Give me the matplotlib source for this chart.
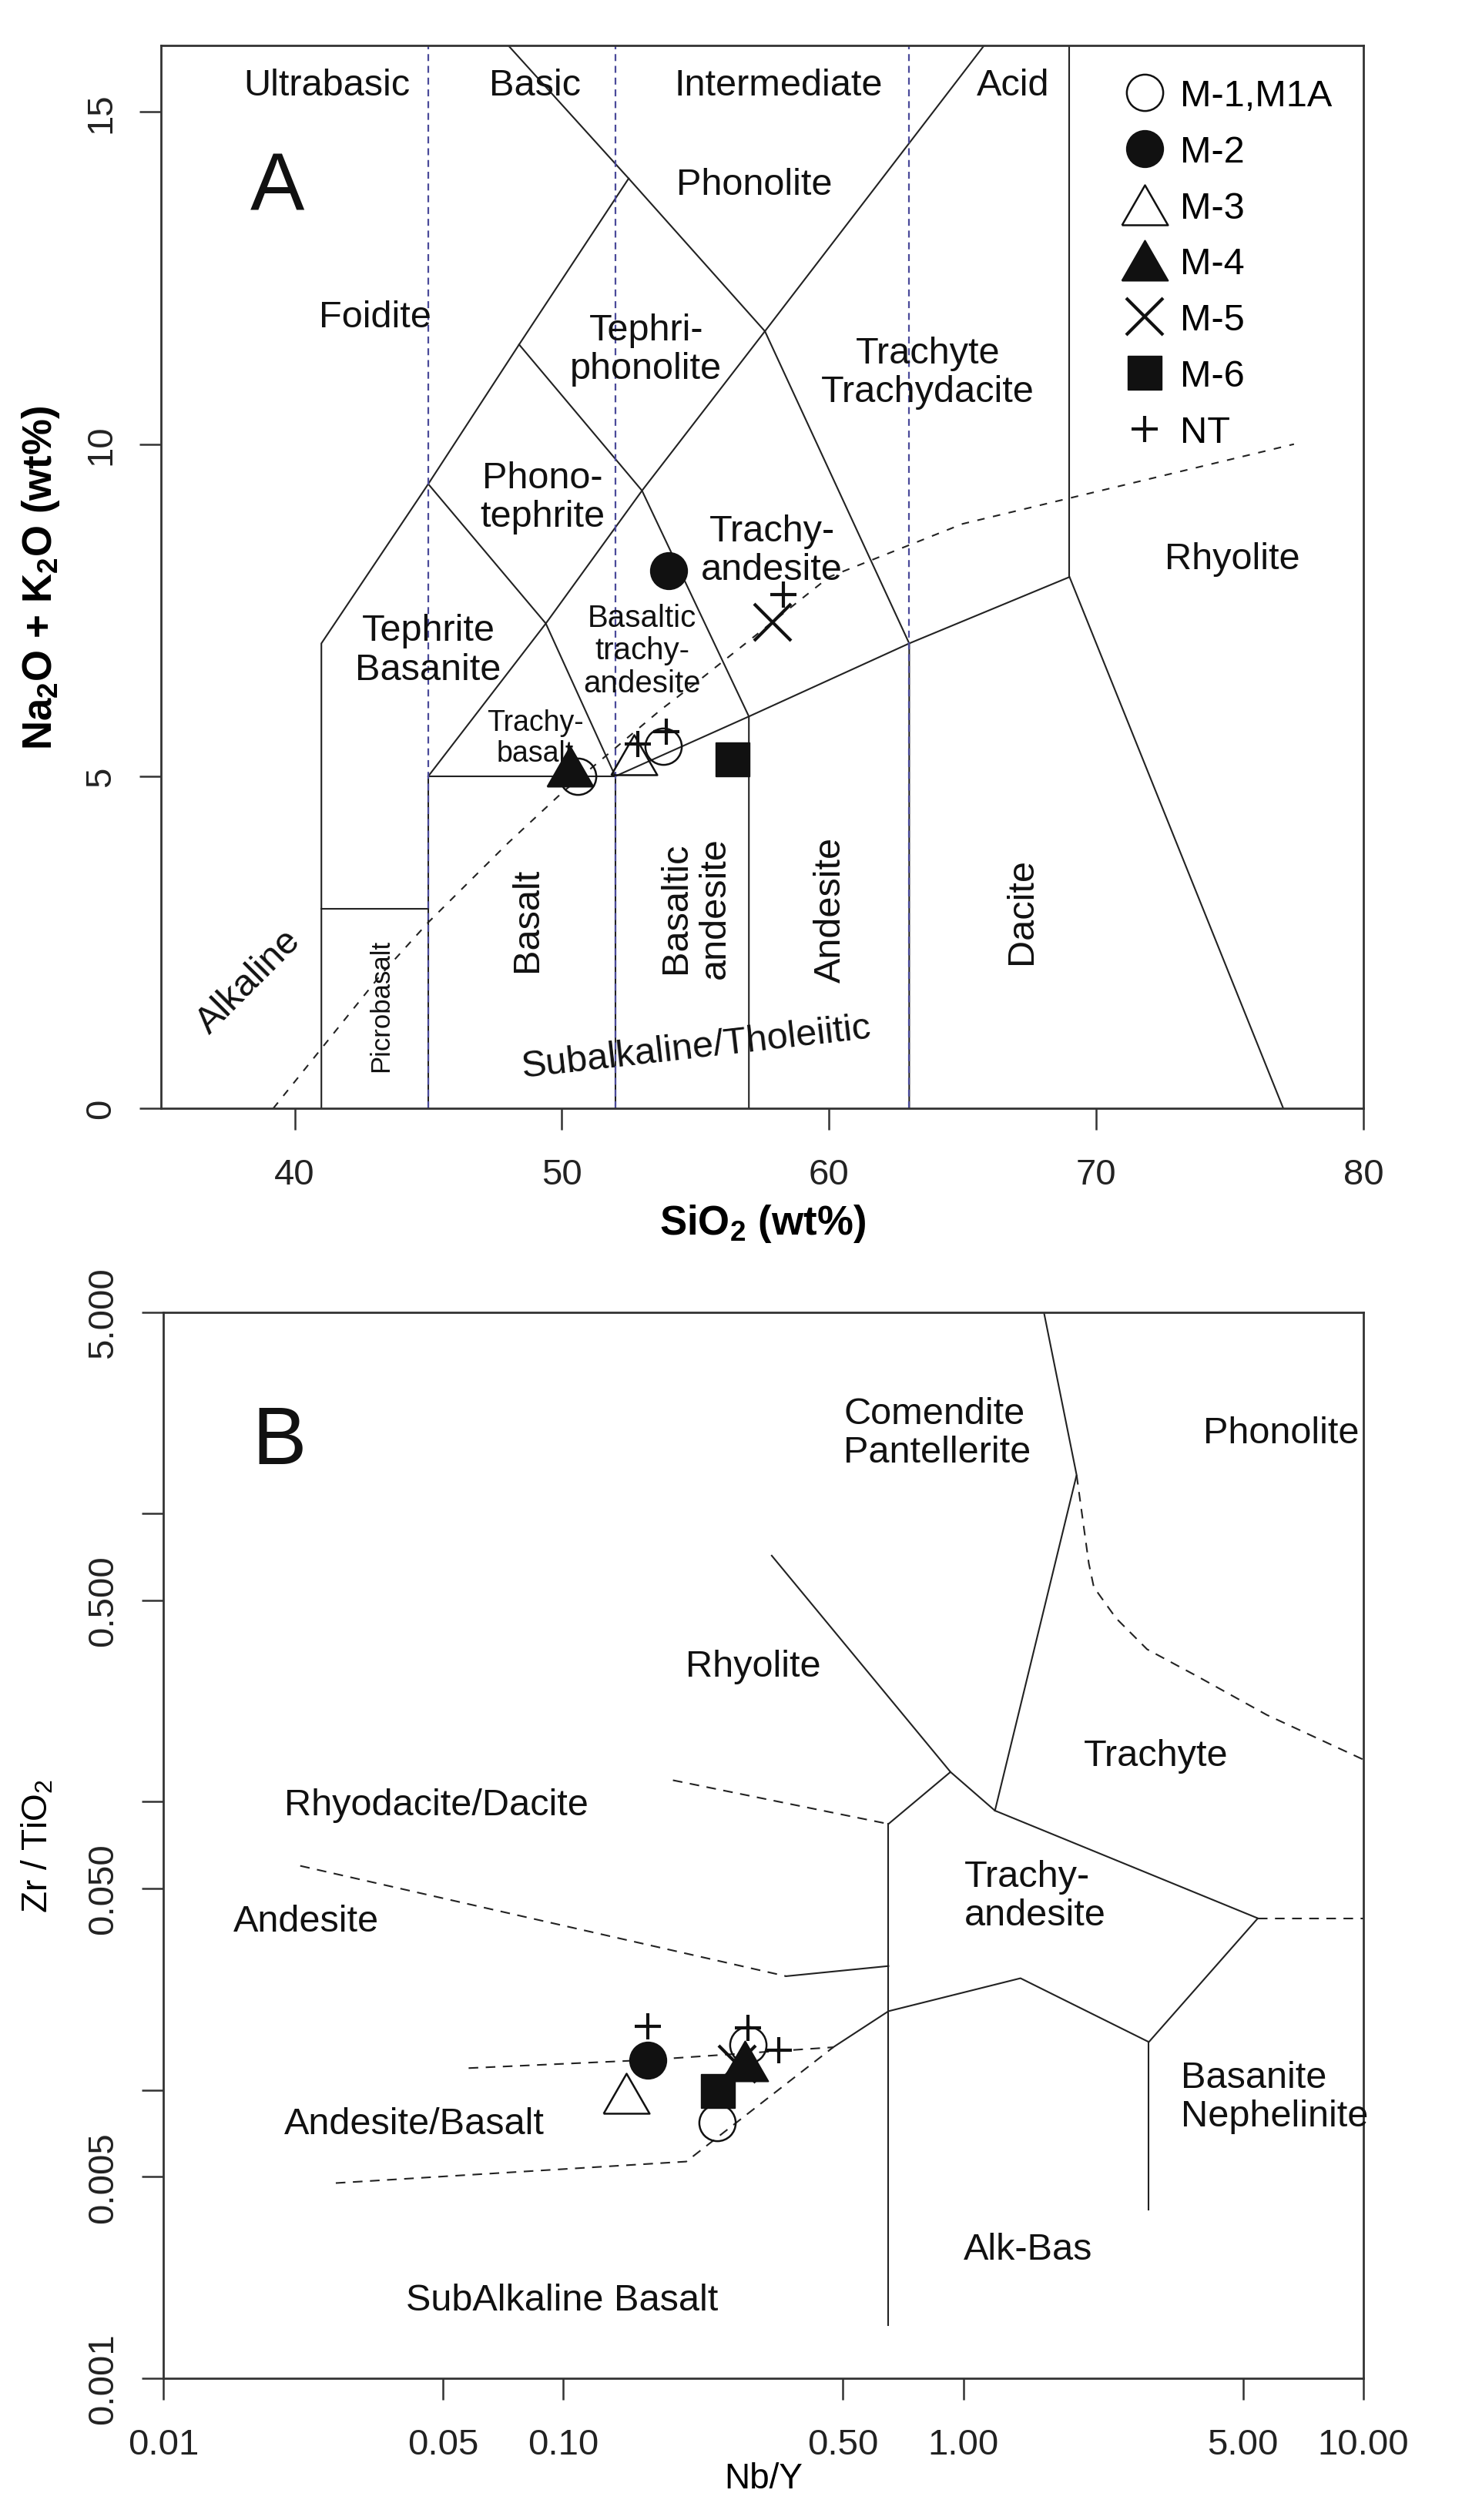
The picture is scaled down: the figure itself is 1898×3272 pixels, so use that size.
import matplotlib
matplotlib.use("Agg")
import matplotlib.pyplot as plt
from matplotlib.ticker import NullLocator

plt.rcParams['font.family'] = ['Liberation Sans', 'DejaVu Sans']
plt.rcParams['mathtext.fontset'] = 'custom'
plt.rcParams['mathtext.rm'] = 'Liberation Sans'
plt.rcParams['mathtext.bf'] = 'Liberation Sans:bold'
plt.rcParams['mathtext.default'] = 'regular'
plt.rcParams['lines.scale_dashes'] = False

# --- A: TAS field boundaries (SiO2, Na2O+K2O) ---
tas_bounds = [
    ([41, 41, 45, 48.4, 52.5], [0, 7, 9.4, 11.5, 14]),
    ([48.0, 52.5, 57.6, 63, 63], [16, 14, 11.7, 7, 0]),
    ([57.6, 65.8], [11.7, 16]),
    ([41, 45], [3, 3]),
    ([45, 45, 52, 52], [0, 5, 5, 0]),
    ([45, 49.4, 52], [5, 7.3, 5]),
    ([45, 49.4, 53, 57.6], [9.4, 7.3, 9.3, 11.7]),
    ([48.4, 53, 57, 57], [11.5, 9.3, 5.9, 0]),
    ([52, 57, 63, 69, 77], [5, 5.9, 7, 8, 0]),
    ([69, 69], [8, 16]),
]
silica_div = [45, 52, 63]
ib_sio2 = [39.2, 40, 43.2, 45, 48, 50, 53.7, 55, 60, 65, 77.4]
ib_alk = [0, 0.4, 2, 2.8, 4, 4.75, 6, 6.4, 8, 8.8, 10]

# --- B: Winchester & Floyd boundaries (Nb/Y, Zr/TiO2) ---
wf_solid = [
    ([1.59, 1.92, 1.20], [5.0, 1.36, 0.0931]),
    ([0.332, 0.929, 0.65], [0.714, 0.1268, 0.0837]),
    ([0.929, 1.20, 5.45, 2.91, 1.39, 0.65, 0.473],
     [0.1268, 0.0931, 0.0394, 0.01466, 0.0244, 0.01875, 0.01406]),
    ([0.65, 0.65], [0.0837, 0.00153]),
    ([2.91, 2.91], [0.01466, 0.00384]),
    ([0.3606, 0.65], [0.0248, 0.0269]),
]
wf_dashed = [
    ([1.92, 2.06, 2.12, 2.41, 2.88, 3.87, 5.74, 10],
     [1.36, 0.67, 0.555, 0.433, 0.338, 0.271, 0.2, 0.14]),
    ([5.45, 10], [0.0394, 0.0394]),
    ([0.188, 0.65], [0.1187, 0.0837]),
    ([0.022, 0.3606], [0.0599, 0.0248]),
    ([0.058, 0.1625, 0.473], [0.0119, 0.0127, 0.01406]),
    ([0.027, 0.203, 0.473], [0.00475, 0.00564, 0.01406]),
]

# --- samples ---
sample_names = ["M-1,M1A", "M-2", "M-3", "M-4", "M-5", "M-6", "NT"]
sio2_vals = [[50.6, 53.8], [54.0], [52.7], [50.3], [57.9], [56.4], [58.3, 53.9, 52.85]]
alk_vals = [[5.0, 5.45], [8.09], [5.32], [5.15], [7.32], [5.25], [7.73, 5.67, 5.49]]
nby_vals = [[0.29, 0.242], [0.1625], [0.144], [0.284], [0.272], [0.2436], [0.1625, 0.289, 0.346]]
zrti_vals = [[0.01435, 0.0077], [0.01268], [0.0097], [0.01256], [0.0123], [0.00988],
             [0.01663, 0.01644, 0.01374]]

tri = [(-1.15, -1), (1.15, -1), (0, 1), (-1.15, -1)]
styles = [
    dict(marker='o', ms=34, mfc='none', mec='#111', mew=1.8),
    dict(marker='o', ms=34, mfc='#111', mec='#111', mew=1.5),
    dict(marker=tri, ms=43, mfc='none', mec='#111', mew=1.8),
    dict(marker=tri, ms=43, mfc='#111', mec='#111', mew=1.5),
    dict(marker='x', ms=34, mec='#111', mew=3),
    dict(marker='s', ms=31, mfc='#111', mec='#111', mew=1),
    dict(marker='+', ms=25, mec='#111', mew=3),
]

LC = '#222222'
fig = plt.figure(figsize=(18.99, 32.73), dpi=100)

# ================= panel A =================
axA = fig.add_axes([0.1101, 0.5600, 0.8220, 0.4216])
for xs, ys in tas_bounds:
    axA.plot(xs, ys, color=LC, lw=1.5, solid_joinstyle='miter')
for xv in silica_div:
    axA.plot([xv, xv], [0, 16], color='#4a4a9a', lw=1.6, dashes=[6.5, 4.5])
axA.plot(ib_sio2, ib_alk, color=LC, lw=1.5, dashes=[7, 8])

handles = []
for name, xs, ys, st in zip(sample_names, sio2_vals, alk_vals, styles):
    h, = axA.plot(xs, ys, linestyle='none', label=name, **st)
    handles.append(h)

axA.set_xlim(35, 80)
axA.set_ylim(0, 16)
axA.set_xticks([40, 50, 60, 70, 80])
axA.set_yticks([0, 5, 10, 15])
axA.set_yticklabels(['0', '5', '10', '15'], rotation=90, va='center')
axA.set_xlabel(r'SiO$_\mathbf{2}$ (wt%)', fontsize=38, fontweight='bold')
axA.set_ylabel(r'Na$_\mathbf{2}$O + K$_\mathbf{2}$O (wt%)', fontsize=38, fontweight='bold')
axA.xaxis.set_label_coords(0.5, -0.088)
axA.yaxis.set_label_coords(-0.083, 0.5)

a_labels = [
    ("Ultrabasic", 41.2, 15.41, 35, 0), ("Basic", 49.0, 15.41, 35, 0),
    ("Intermediate", 58.1, 15.41, 35, 0), ("Acid", 66.9, 15.41, 35, 0),
    ("Phonolite", 57.2, 13.91, 35, 0), ("Foidite", 43.0, 11.91, 35, 0),
    ("Tephri-\nphonolite", 53.15, 11.43, 35, 0),
    ("Trachyte\nTrachydacite", 63.7, 11.08, 35, 0),
    ("Phono-\ntephrite", 49.28, 9.2, 35, 0),
    ("Trachy-\nandesite", 57.86, 8.4, 35, 0),
    ("Rhyolite", 75.1, 8.28, 35, 0),
    ("Tephrite\nBasanite", 45.0, 6.9, 35, 0),
    ("Basaltic\ntrachy-\nandesite", 53.0, 6.9, 29, 0),
    ("Trachy-\nbasalt", 49.0, 5.58, 27, 0),
    ("Basalt", 48.7, 2.85, 35, 90),
    ("Basaltic\nandesite", 55.0, 3.03, 35, 90),
    ("Andesite", 60.06, 3.0, 35, 90),
    ("Dacite", 67.2, 2.98, 35, 90),
    ("Picrobasalt", 43.24, 1.56, 25, 90),
    ("Alkaline", 38.3, 1.92, 35, 45),
    ("Subalkaline/Tholeiitic", 55.05, 0.92, 35, 6.5),
]
for t, x, y, fs, rot in a_labels:
    axA.text(x, y, t, fontsize=fs, rotation=rot, ha='center', va='center',
             color='#111', linespacing=1.15, rotation_mode='anchor')
axA.text(39.36, 13.86, "A", fontsize=76, ha='center', va='center', color='#111')

axA.legend(handles, sample_names, loc='upper left', bbox_to_anchor=(71.1, 15.50),
           bbox_transform=axA.transData, frameon=False, fontsize=35,
           handlelength=1.0, handletextpad=0.45, labelspacing=0.57,
           borderpad=0, borderaxespad=0, numpoints=1)

# ================= panel B =================
axB = fig.add_axes([0.1116, 0.0563, 0.8204, 0.4229])
for xs, ys in wf_solid:
    axB.plot(xs, ys, color=LC, lw=1.5)
for xs, ys in wf_dashed:
    axB.plot(xs, ys, color=LC, lw=1.5, dashes=[9, 7])
for xs, ys, st in zip(nby_vals, zrti_vals, styles):
    axB.plot(xs, ys, linestyle='none', **st)

axB.set_xscale('log')
axB.set_yscale('log')
axB.set_xlim(0.01, 10)
axB.set_ylim(0.001, 5)
axB.set_xticks([0.01, 0.05, 0.1, 0.5, 1, 5, 10])
axB.set_xticklabels(['0.01', '0.05', '0.10', '0.50', '1.00', '5.00', '10.00'])
axB.set_yticks([0.001, 0.005, 0.01, 0.05, 0.1, 0.5, 1, 5])
axB.set_yticklabels(['0.001', '0.005', '', '0.050', '', '0.500', '', '5.000'],
                    rotation=90, va='center')
axB.xaxis.set_minor_locator(NullLocator())
axB.yaxis.set_minor_locator(NullLocator())
axB.set_xlabel('Nb/Y', fontsize=33)
axB.set_ylabel(r'Zr / TiO$_2$', fontsize=33)
axB.xaxis.set_label_coords(0.5, -0.078)
axB.yaxis.set_label_coords(-0.09, 0.5)

b_labels = [
    ("Phonolite", 6.24, 1.9, 'center'),
    ("Rhyolite", 0.298, 0.295, 'center'), ("Trachyte", 3.03, 0.1446, 'center'),
    ("Rhyodacite/Dacite", 0.0481, 0.0973, 'center'),
    ("Andesite", 0.0228, 0.0384, 'center'),
    ("Andesite/Basalt", 0.0425, 0.00762, 'center'), ("Alk-Bas", 1.45, 0.0028, 'center'),
    ("SubAlkaline Basalt", 0.0993, 0.00186, 'center'),
    ("Comendite\nPantellerite", 0.502, 1.9, 'left'),
    ("Trachy-\nandesite", 1.008, 0.0471, 'left'),
    ("Basanite\nNephelinite", 3.50, 0.00948, 'left'),
]
for t, x, y, ha in b_labels:
    axB.text(x, y, t, fontsize=35, ha=ha, va='center', color='#111',
             linespacing=1.15, multialignment='left')
axB.text(0.0195, 1.77, "B", fontsize=76, ha='center', va='center', color='#111')

for ax in (axA, axB):
    for s in ax.spines.values():
        s.set_linewidth(2.0)
        s.set_color('#333')
    ax.tick_params(direction='out', length=20, width=1.8, color='#333',
                   labelsize=34, labelcolor='#222')
    ax.tick_params(axis='x', pad=26)
    ax.tick_params(axis='y', pad=20)

fig.savefig("out.png", dpi=100, facecolor='white')
plt.close(fig)
